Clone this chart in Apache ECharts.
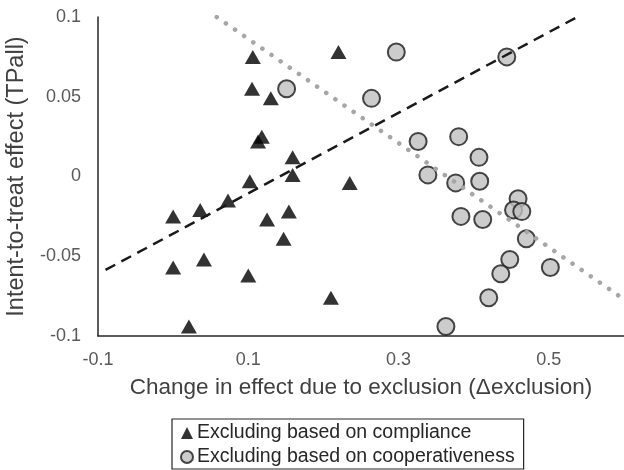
<!DOCTYPE html>
<html>
<head>
<meta charset="utf-8">
<script src="https://cdn.jsdelivr.net/npm/echarts@6/dist/echarts.min.js"></script>
<style>html,body{margin:0;padding:0;background:#fff}#c{width:624px;height:470px}</style>
</head>
<body>
<div id="c"></div>
<script>
// Excluding based on compliance: [Δexclusion, TPall]
const complianceX = [0.106, 0.105, 0.130, 0.118, 0.113, 0.159, 0.159, 0.102, 0.000, 0.036, 0.073, 0.125, 0.154, 0.147, 0.000, 0.041, 0.100, 0.021, 0.220, 0.235, 0.210];
const complianceY = [0.075, 0.055, 0.049, 0.025, 0.022, 0.012, 0.001, -0.003, -0.025, -0.021, -0.015, -0.027, -0.022, -0.039, -0.057, -0.052, -0.062, -0.094, 0.078, -0.004, -0.076];
// Excluding based on cooperativeness
const cooperX = [0.151, 0.297, 0.444, 0.264, 0.326, 0.380, 0.407, 0.339, 0.376, 0.408, 0.459, 0.453, 0.464, 0.383, 0.412, 0.470, 0.448, 0.436, 0.502, 0.420, 0.363];
const cooperY = [0.055, 0.078, 0.075, 0.049, 0.022, 0.025, 0.012, 0.001, -0.004, -0.003, -0.014, -0.021, -0.022, -0.025, -0.027, -0.039, -0.052, -0.061, -0.057, -0.076, -0.094];
// Trend lines (endpoints)
const trendComplianceX = [-0.09, 0.54];
const trendComplianceY = [-0.0586, 0.1006];
const trendCooperX = [0.058, 0.6];
const trendCooperY = [0.1, -0.077];

const seriesNames = ['Excluding based on compliance', 'Excluding based on cooperativeness'];
const xTitle = 'Change in effect due to exclusion (\u0394exclusion)';
const yTitle = 'Intent-to-treat effect (TPall)';

const zip = (a, b) => a.map((v, i) => [v, b[i]]);
const font = 'Liberation Sans, Arial, sans-serif';

const chart = echarts.init(document.getElementById('c'));
chart.setOption({
  animation: false,
  backgroundColor: '#fff',
  grid: { left: 98, right: 0, top: 17, bottom: 134, outerBoundsMode: 'none', containLabel: false },
  xAxis: {
    type: 'value', min: -0.1, max: 0.6, interval: 0.2,
    name: xTitle, nameLocation: 'middle', nameGap: 40,
    nameTextStyle: { fontFamily: font, fontSize: 22.5, color: '#404040' },
    axisLine: { show: true, onZero: false, lineStyle: { color: '#262626', width: 1.5 } },
    axisTick: { show: false }, splitLine: { show: false },
    axisLabel: { fontFamily: font, fontSize: 18, color: '#595959', margin: 15, showMaxLabel: false,
      formatter: v => (Math.round(v * 100) / 100).toString() }
  },
  yAxis: {
    type: 'value', min: -0.1, max: 0.1, interval: 0.05,
    name: yTitle, nameLocation: 'middle', nameGap: 69, nameRotate: 90,
    nameTextStyle: { fontFamily: font, fontSize: 23.5, color: '#404040' },
    axisLine: { show: true, onZero: false, lineStyle: { color: '#262626', width: 1.5 } },
    axisTick: { show: false }, splitLine: { show: false },
    axisLabel: { fontFamily: font, fontSize: 18, color: '#595959', margin: 17,
      formatter: v => (Math.round(v * 1000) / 1000).toString() }
  },
  legend: {
    data: [
      { name: seriesNames[0], icon: 'triangle' },
      { name: seriesNames[1], icon: 'circle' }
    ],
    orient: 'vertical', left: 172, top: 419, height: 120,
    borderColor: '#262626', borderWidth: 1.2, padding: [4, 9, 2, 8],
    itemWidth: 12, itemHeight: 12, itemGap: 4,
    textStyle: { fontFamily: font, fontSize: 19.5, lineHeight: 20, color: '#262626', padding: [0, 0, 0, -1] }
  },
  series: [
    {
      name: seriesNames[0], type: 'scatter', symbol: 'triangle', symbolSize: [16, 14],
      itemStyle: { color: '#000' },
      data: zip(complianceX, complianceY)
    },
    {
      name: seriesNames[1], type: 'scatter', symbol: 'circle', symbolSize: 17,
      itemStyle: { color: '#bfbfbf', borderColor: '#1a1a1a', borderWidth: 2 },
      data: zip(cooperX, cooperY)
    },
    {
      name: 'trendCompliance', type: 'line', symbol: 'none', silent: true,
      lineStyle: { color: '#1a1a1a', width: 2.5, type: [11, 7] },
      data: zip(trendComplianceX, trendComplianceY), z: 5
    },
    {
      name: 'trendCooper', type: 'line', symbol: 'none', silent: true,
      lineStyle: { color: '#a6a6a6', width: 4.5, type: [0.1, 11], cap: 'round' },
      data: zip(trendCooperX, trendCooperY), z: 5
    }
  ]
});
</script>
</body>
</html>
